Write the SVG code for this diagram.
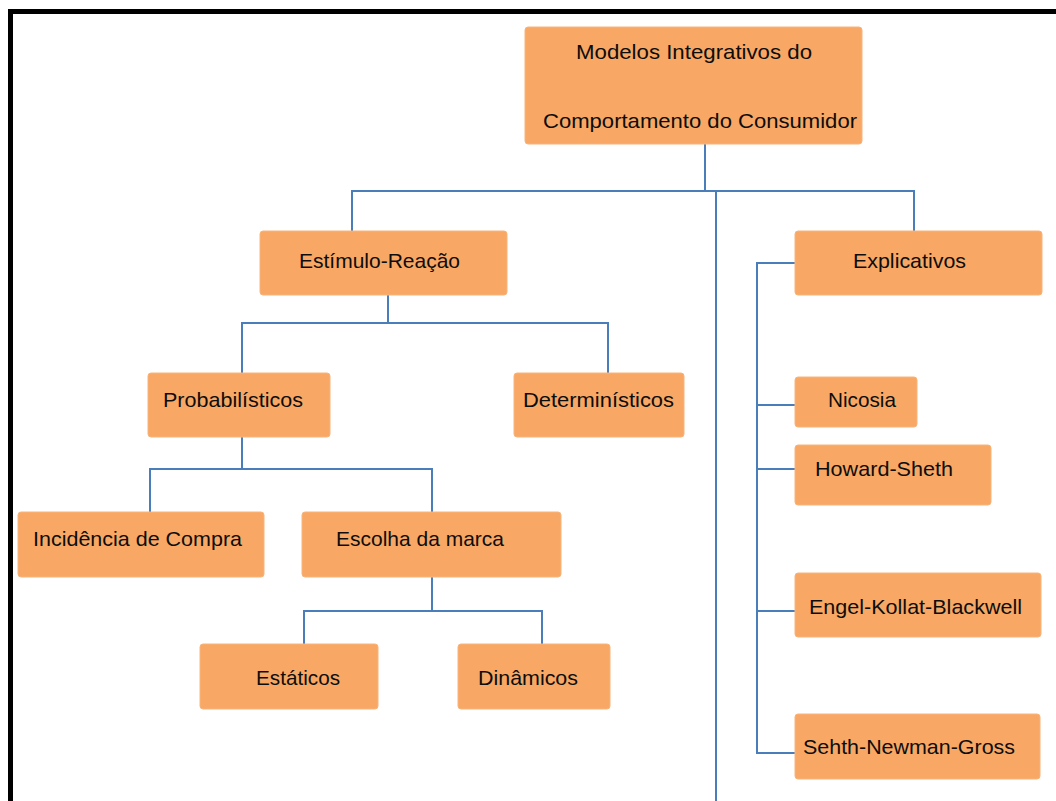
<svg xmlns="http://www.w3.org/2000/svg" width="1056" height="801" viewBox="0 0 1056 801">
  <style>
    .box { fill: #F8A864; stroke: #F9B47A; stroke-width: 1; }
    .lbl { font-family: "Liberation Sans", Arial, sans-serif; font-size: 21px; fill: #0d0d0d; }
    .wire { fill: none; stroke: #4A7EBB; stroke-width: 2; }
  </style>
  <rect width="1056" height="801" fill="#ffffff"/>
  <!-- page frame -->
  <rect x="10.5" y="11.5" width="1100" height="850" fill="none" stroke="#000000" stroke-width="5"/>

  <g id="connectors">
    <path class="wire" d="M705 144 V191 M352 231 V191 H914 V231 M716 191 V801"/>
    <path class="wire" d="M388 295 V323 M242 373 V323 H608 V373"/>
    <path class="wire" d="M242 437 V469 M150 512 V469 H432 V512"/>
    <path class="wire" d="M432 577 V611 M304 644 V611 H542 V644"/>
    <path class="wire" d="M795 263 H757 V753 H795 M757 405 H795 M757 469 H795 M757 611 H795"/>
  </g>

  <g id="n-root">
    <rect class="box" x="525" y="27" width="337" height="117" rx="3"/>
    <text class="lbl" x="576" y="59" textLength="236" lengthAdjust="spacingAndGlyphs">Modelos Integrativos do</text>
    <text class="lbl" x="543" y="128" textLength="314" lengthAdjust="spacingAndGlyphs">Comportamento do Consumidor</text>
  </g>
  <g id="n-estimulo">
    <rect class="box" x="260" y="231" width="247" height="64" rx="3"/>
    <text class="lbl" x="299" y="268" textLength="161" lengthAdjust="spacingAndGlyphs">Estímulo-Reação</text>
  </g>
  <g id="n-explicativos">
    <rect class="box" x="795" y="231" width="247" height="64" rx="3"/>
    <text class="lbl" x="853" y="268" textLength="113" lengthAdjust="spacingAndGlyphs">Explicativos</text>
  </g>
  <g id="n-probabilisticos">
    <rect class="box" x="148" y="373" width="182" height="64" rx="3"/>
    <text class="lbl" x="163" y="407" textLength="140" lengthAdjust="spacingAndGlyphs">Probabilísticos</text>
  </g>
  <g id="n-deterministicos">
    <rect class="box" x="514" y="373" width="170" height="64" rx="3"/>
    <text class="lbl" x="523" y="407" textLength="151" lengthAdjust="spacingAndGlyphs">Determinísticos</text>
  </g>
  <g id="n-nicosia">
    <rect class="box" x="795" y="377" width="122" height="50" rx="3"/>
    <text class="lbl" x="828" y="407" textLength="68" lengthAdjust="spacingAndGlyphs">Nicosia</text>
  </g>
  <g id="n-howard">
    <rect class="box" x="795" y="445" width="196" height="60" rx="3"/>
    <text class="lbl" x="815" y="476" textLength="138" lengthAdjust="spacingAndGlyphs">Howard-Sheth</text>
  </g>
  <g id="n-incidencia">
    <rect class="box" x="18" y="512" width="246" height="65" rx="3"/>
    <text class="lbl" x="33" y="546" textLength="209" lengthAdjust="spacingAndGlyphs">Incidência de Compra</text>
  </g>
  <g id="n-escolha">
    <rect class="box" x="302" y="512" width="259" height="65" rx="3"/>
    <text class="lbl" x="336" y="546" textLength="168" lengthAdjust="spacingAndGlyphs">Escolha da marca</text>
  </g>
  <g id="n-engel">
    <rect class="box" x="795" y="573" width="246" height="64" rx="3"/>
    <text class="lbl" x="809" y="614" textLength="213" lengthAdjust="spacingAndGlyphs">Engel-Kollat-Blackwell</text>
  </g>
  <g id="n-estaticos">
    <rect class="box" x="200" y="644" width="178" height="65" rx="3"/>
    <text class="lbl" x="256" y="685" textLength="84" lengthAdjust="spacingAndGlyphs">Estáticos</text>
  </g>
  <g id="n-dinamicos">
    <rect class="box" x="458" y="644" width="152" height="65" rx="3"/>
    <text class="lbl" x="478" y="685" textLength="100" lengthAdjust="spacingAndGlyphs">Dinâmicos</text>
  </g>
  <g id="n-sehth">
    <rect class="box" x="795" y="714" width="245" height="65" rx="3"/>
    <text class="lbl" x="803" y="754" textLength="212" lengthAdjust="spacingAndGlyphs">Sehth-Newman-Gross</text>
  </g>
</svg>
